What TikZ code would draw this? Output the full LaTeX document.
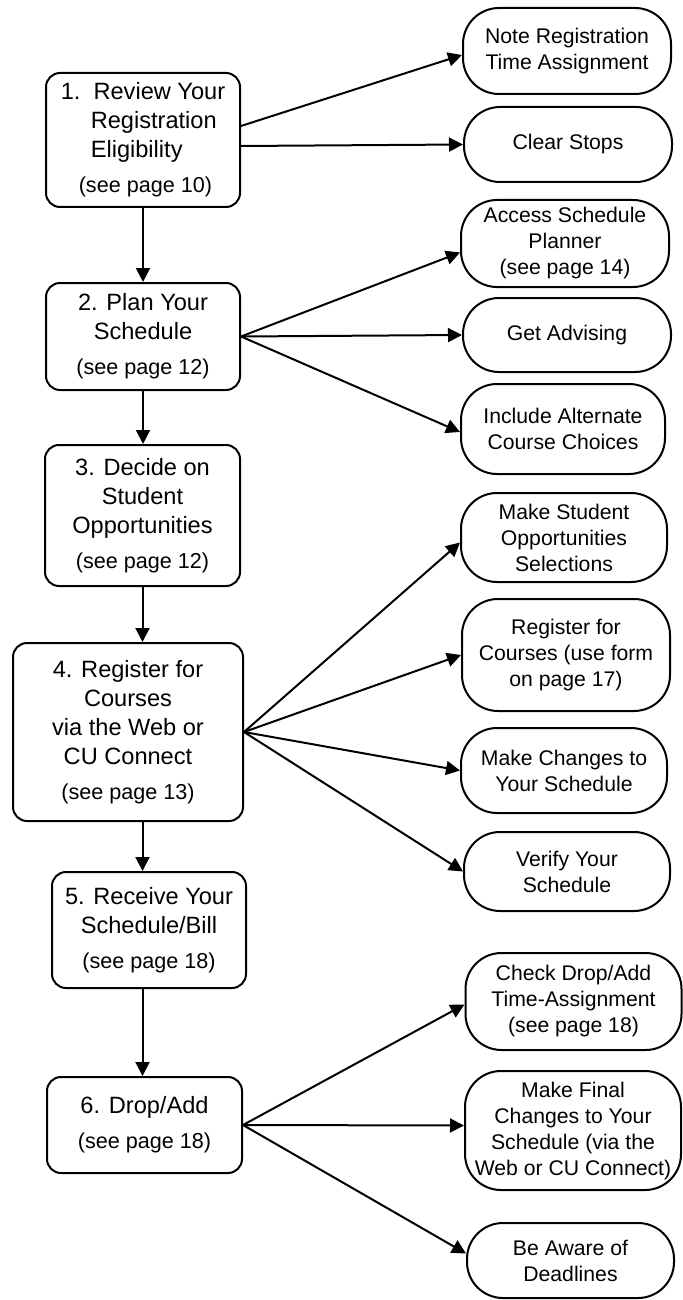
\documentclass[tikz,border=0pt]{standalone}
\usepackage{fontspec}
\setmainfont{Liberation Sans}
\usetikzlibrary{arrows.meta}
\newcommand{\seepage}[1]{{\fontsize{10.8}{12}\selectfont (see page #1)}}

\begin{document}
\begin{tikzpicture}[x=0.5pt, y=-0.5pt,
    mainbox/.style={draw, line width=1pt, rounded corners=7pt, align=center, inner sep=2pt, font=\fontsize{11.8}{14.5}\selectfont},
    sidebox/.style={draw, line width=1pt, rounded corners=18pt, align=center, inner sep=2pt, font=\fontsize{10.6}{13}\selectfont},
    flow/.style={-{Triangle[length=7pt, width=7pt]}, line width=1pt}]
    \useasboundingbox (0,0) rectangle (682,1300);

        % the six steps
        \node[mainbox, minimum width=97pt, minimum height=67pt, align=left] (review) at (143,140) {1.\ \ Review Your\\\hspace*{15pt}Registration\\\hspace*{15pt}Eligibility\\[3pt]\hspace*{9pt}\seepage{10}};
        \node[mainbox, minimum width=97pt, minimum height=53.5pt] (plan) at (143,336.5) {2. Plan Your\\Schedule\\[3pt]\seepage{12}};
        \node[mainbox, minimum width=97.5pt, minimum height=70.5pt] (decide) at (142.5,515.5) {3. Decide on\\Student\\Opportunities\\[3pt]\seepage{12}};
        \node[mainbox, minimum width=115pt, minimum height=89pt] (register) at (128,732) {4. Register for\\Courses\\via the Web or\\CU Connect\\[3pt]\seepage{13}};
        \node[mainbox, minimum width=97pt, minimum height=58pt] (receive) at (149,930) {5. Receive Your\\Schedule/Bill\\[3pt]\seepage{18}};
        \node[mainbox, minimum width=97.5pt, minimum height=48pt] (dropadd) at (144.5,1125) {6. Drop/Add\\[3pt]\seepage{18}};

        \draw[flow] (review.south) -- (plan.north);
        \draw[flow] (plan.south) -- (plan.south |- decide.north);
        \draw[flow] (decide.south) -- (decide.south |- register.north);
        \draw[flow] (register.south -| decide.south) -- (receive.north -| decide.south);
        \draw[flow] (receive.south -| decide.south) -- (dropadd.north -| decide.south);

        % what each step involves
        \node[sidebox, minimum width=104pt, minimum height=43pt] (notetime) at (567,51) {Note Registration\\Time Assignment};
        \node[sidebox, minimum width=104pt, minimum height=37.5pt] (clearstops) at (568,144.5) {Clear Stops};
        \node[sidebox, minimum width=104pt, minimum height=43.5pt] (planner) at (565,243.5) {Access Schedule\\Planner\\(see page 14)};
        \node[sidebox, minimum width=104pt, minimum height=37pt] (advising) at (567,335) {Get Advising};
        \node[sidebox, minimum width=102pt, minimum height=45pt] (alternates) at (563,429) {Include Alternate\\Course Choices};
        \node[sidebox, minimum width=103pt, minimum height=44.5pt] (selections) at (564,537.5) {Make Student\\Opportunities\\Selections};
        \node[sidebox, minimum width=104pt, minimum height=56pt] (regform) at (566,655) {Register for\\Courses (use form\\on page 17)};
        \node[sidebox, minimum width=103pt, minimum height=42.5pt] (changes) at (564,770.5) {Make Changes to\\Your Schedule};
        \node[sidebox, minimum width=103pt, minimum height=39.5pt] (verify) at (567,871.5) {Verify Your\\Schedule};
        \node[sidebox, minimum width=108pt, minimum height=48.5pt] (checktime) at (573.5,1001.5) {Check Drop/Add\\Time-Assignment\\(see page 18)};
        \node[sidebox, minimum width=108pt, minimum height=59.5pt] (finalchanges) at (573,1130.5) {Make Final\\Changes to Your\\Schedule (via the\\Web or CU Connect)};
        \node[sidebox, minimum width=103.5pt, minimum height=37.5pt] (deadlines) at (570.5,1260.5) {Be Aware of\\Deadlines};

        \draw[flow] ([yshift=7pt]review.east) -- ([yshift=-2pt]notetime.west);
        \draw[flow] ([yshift=-3pt]review.east) -- (clearstops.west);

        \draw[flow] (plan.east) -- ([yshift=-4.5pt]planner.west);
        \draw[flow] (plan.east) -- (advising.west);
        \draw[flow] (plan.east) -- ([yshift=-1.5pt]alternates.west);

        \draw[flow] (register.east) -- ([yshift=-2.5pt]selections.west);
        \draw[flow] (register.east) -- (regform.west);
        \draw[flow] (register.east) -- (changes.west);
        \draw[flow] (register.east) -- (verify.west);

        \draw[flow] (dropadd.east) -- ([yshift=-1.5pt]checktime.west);
        \draw[flow] (dropadd.east) -- ([yshift=2.5pt]finalchanges.west);
        \draw[flow] (dropadd.east) -- ([yshift=3.5pt]deadlines.west);

    \end{tikzpicture}
\end{document}
